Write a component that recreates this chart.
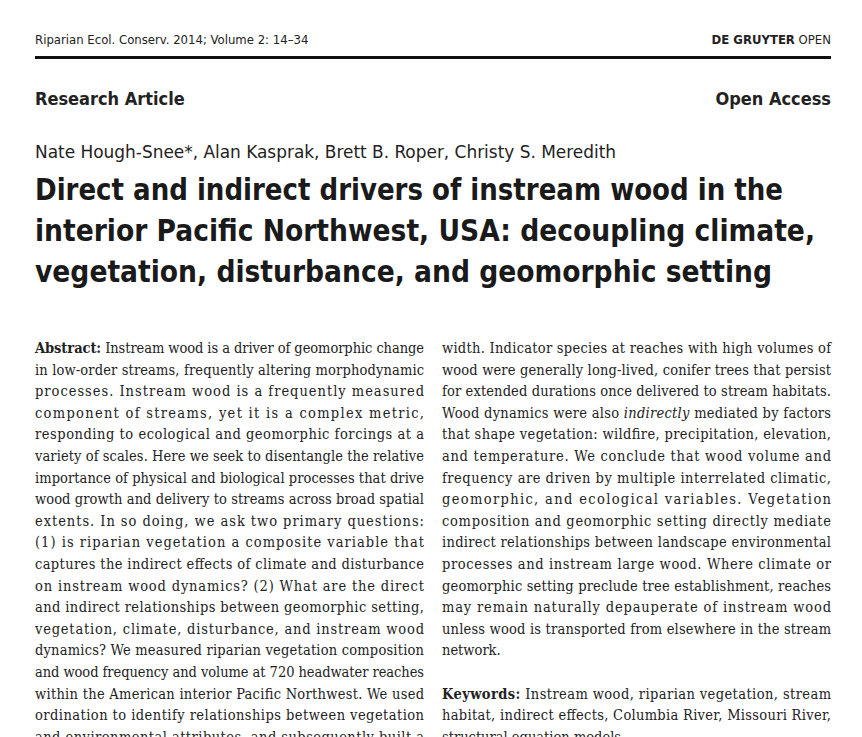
import * as React from 'react';

const headerLeft = 'Riparian Ecol. Conserv. 2014; Volume 2: 14–34';
const authors = 'Nate Hough-Snee*, Alan Kasprak, Brett B. Roper, Christy S. Meredith';
const titleLines = [
  'Direct and indirect drivers of instream wood in the',
  'interior Pacific Northwest, USA: decoupling climate,',
  'vegetation, disturbance, and geomorphic setting',
];
const titleWidths = [748, 780, 737];

// [bold prefix, italic word, text, justified]
type Line = { pre?: string; it?: string; text: string; post?: string; just: boolean };

const leftLines: Line[] = [
  { pre: 'Abstract:', text: ' Instream wood is a driver of geomorphic change', just: true },
  { text: 'in low-order streams, frequently altering morphodynamic', just: true },
  { text: 'processes. Instream wood is a frequently measured', just: true },
  { text: 'component of streams, yet it is a complex metric,', just: true },
  { text: 'responding to ecological and geomorphic forcings at a', just: true },
  { text: 'variety of scales. Here we seek to disentangle the relative', just: true },
  { text: 'importance of physical and biological processes that drive', just: true },
  { text: 'wood growth and delivery to streams across broad spatial', just: true },
  { text: 'extents. In so doing, we ask two primary questions:', just: true },
  { text: '(1) is riparian vegetation a composite variable that', just: true },
  { text: 'captures the indirect effects of climate and disturbance', just: true },
  { text: 'on instream wood dynamics? (2) What are the direct', just: true },
  { text: 'and indirect relationships between geomorphic setting,', just: true },
  { text: 'vegetation, climate, disturbance, and instream wood', just: true },
  { text: 'dynamics? We measured riparian vegetation composition', just: true },
  { text: 'and wood frequency and volume at 720 headwater reaches', just: true },
  { text: 'within the American interior Pacific Northwest. We used', just: true },
  { text: 'ordination to identify relationships between vegetation', just: true },
  { text: 'and environmental attributes, and subsequently built a', just: true },
];

const rightLines: (Line | null)[] = [
  { text: 'width. Indicator species at reaches with high volumes of', just: true },
  { text: 'wood were generally long-lived, conifer trees that persist', just: true },
  { text: 'for extended durations once delivered to stream habitats.', just: true },
  { text: 'Wood dynamics were also ', it: 'indirectly', post: ' mediated by factors', just: true },
  { text: 'that shape vegetation: wildfire, precipitation, elevation,', just: true },
  { text: 'and temperature. We conclude that wood volume and', just: true },
  { text: 'frequency are driven by multiple interrelated climatic,', just: true },
  { text: 'geomorphic, and ecological variables. Vegetation', just: true },
  { text: 'composition and geomorphic setting directly mediate', just: true },
  { text: 'indirect relationships between landscape environmental', just: true },
  { text: 'processes and instream large wood. Where climate or', just: true },
  { text: 'geomorphic setting preclude tree establishment, reaches', just: true },
  { text: 'may remain naturally depauperate of instream wood', just: true },
  { text: 'unless wood is transported from elsewhere in the stream', just: true },
  { text: 'network.', just: false },
  null,
  { pre: 'Keywords:', text: ' Instream wood, riparian vegetation, stream', just: true },
  { text: 'habitat, indirect effects, Columbia River, Missouri River,', just: true },
  { text: 'structural equation models', just: false },
];

const sans = '"DejaVu Sans Condensed", "DejaVu Sans", sans-serif';
const serif = '"DejaVu Serif Condensed", "DejaVu Serif", serif';
const lineH = 21.6;
const top = 353;

function renderLine(l: Line, x: number, w: number, y: number, key: string) {
  return (
    <text key={key} x={x} y={y} fontFamily={serif} fontSize={14.5} fill="#222"
      textLength={l.just ? w : undefined} lengthAdjust="spacing">
      {l.pre && <tspan fontWeight="bold">{l.pre}</tspan>}
      {l.text}
      {l.it && <tspan fontStyle="italic">{l.it}</tspan>}
      {l.post}
    </text>
  );
}

export default function App() {
  return (
    <svg width={862} height={737} style={{ position: 'fixed', left: 0, top: 0, background: '#fff' }}>
      <rect width={862} height={737} fill="#fff" />
      <text x={35} y={44} fontFamily={sans} fontSize={13} fill="#222">{headerLeft}</text>
      <text x={831} y={44} textAnchor="end" fontFamily={sans} fontSize={13} fill="#222">
        <tspan fontWeight="bold">DE GRUYTER</tspan> OPEN
      </text>
      <rect x={35} y={56} width={796} height={3} fill="#111" />
      <text x={35} y={105} fontFamily={sans} fontWeight="bold" fontSize={18} fill="#222">Research Article</text>
      <text x={831} y={105} textAnchor="end" fontFamily={sans} fontWeight="bold" fontSize={18} fill="#222">Open Access</text>
      <text x={35} y={158} fontFamily={sans} fontSize={18} fill="#222" textLength={581} lengthAdjust="spacingAndGlyphs">{authors}</text>
      {titleLines.map((t, i) => (
        <text key={i} x={35} y={200 + i * 41} fontFamily={sans} fontWeight="bold" fontSize={31} fill="#1a1a1a"
          textLength={titleWidths[i]} lengthAdjust="spacingAndGlyphs">{t}</text>
      ))}
      {leftLines.map((l, i) => renderLine(l, 35, 389, top + i * lineH, 'l' + i))}
      {rightLines.map((l, i) => l && renderLine(l, 442, 389, top + i * lineH, 'r' + i))}
    </svg>
  );
}
